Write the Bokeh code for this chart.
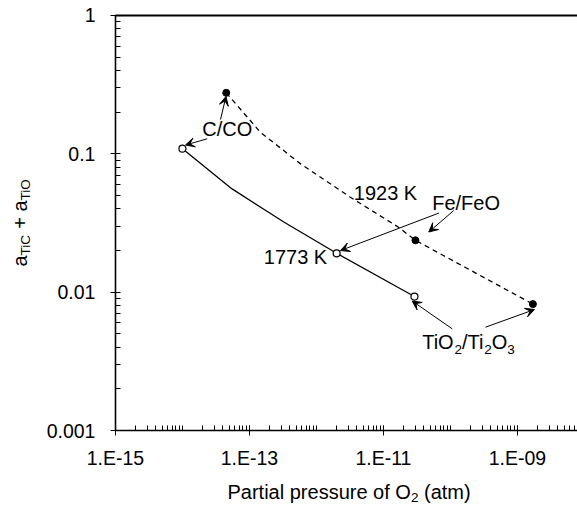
from bokeh.plotting import figure
from bokeh.models import (Range1d, FixedTicker, CustomJSTickFormatter, Label, Arrow,
                          VeeHead, LogAxis)
from bokeh.embed import file_html
from bokeh.resources import INLINE

# ---------------- data ----------------
# 1773 K curve (solid, open circles at the buffers)
x_1773_curve = [1.0e-14, 5.5e-14, 3.3e-13, 2.0e-12, 2.9e-11]
y_1773_curve = [0.109, 0.0558, 0.032, 0.0191, 0.0093]
x_1773_buffer = [1.0e-14, 2.0e-12, 2.9e-11]
y_1773_buffer = [0.109, 0.0191, 0.0093]

# 1923 K curve (dashed, filled circles at the buffers)
x_1923_curve = [4.5e-14, 1.46e-13, 5.8e-13, 3.2e-12, 1.67e-11, 3.0e-11, 1.7e-9]
y_1923_curve = [0.276, 0.143, 0.0846, 0.0486, 0.0295, 0.0237, 0.0082]
x_1923_buffer = [4.5e-14, 3.0e-11, 1.7e-9]
y_1923_buffer = [0.276, 0.0237, 0.0082]

x_ticks = [1e-15, 1e-13, 1e-11, 1e-9]
x_tick_labels = ["1.E-15", "1.E-13", "1.E-11", "1.E-09"]
y_ticks = [0.001, 0.01, 0.1, 1]
y_tick_labels = ["0.001", "0.01", "0.1", "1"]
x_minor = [k * 10.0 ** n for n in range(-15, -8) for k in range(1, 10)]
y_minor = [k * 10.0 ** n for n in range(-3, 0) for k in range(2, 10)]

X_AXIS_MIN, X_AXIS_MAX = 1e-15, 10 ** -8.104
Y_AXIS_MIN, Y_AXIS_MAX = 0.001, 1.0

FONT = "Liberation Sans"
MAIN = 20.0
SUB = 13.5
W, H = 577, 505

# ---------------- figure ----------------
# The frame fills the whole canvas; the axes are drawn at fixed data locations
p = figure(width=W, height=H, x_axis_type="log", y_axis_type="log",
           x_axis_location=None, y_axis_location=None,
           x_range=Range1d(10 ** -16.716, 10 ** -8.104),
           y_range=Range1d(10 ** -3.542, 10 ** 0.1084),
           output_backend="svg", toolbar_location=None, min_border=0)
p.outline_line_color = None
p.grid.visible = False
p.background_fill_color = "white"
p.border_fill_color = "white"

def fmt(vals, labels):
    return CustomJSTickFormatter(args=dict(vals=vals, labels=labels), code="""
        let best = ''; let bd = 1e9;
        for (let i = 0; i < vals.length; i++) {
            const d = Math.abs(Math.log10(vals[i]) - Math.log10(tick));
            if (d < bd) { bd = d; best = labels[i]; }
        }
        return bd < 1e-6 ? best : '';
    """)

def style(ax):
    ax.axis_line_width = 1.6
    ax.axis_line_color = "black"
    ax.major_tick_line_color = "black"
    ax.minor_tick_line_color = "black"
    ax.major_tick_line_width = 1
    ax.minor_tick_line_width = 1
    ax.major_tick_out = 5
    ax.major_tick_in = 5
    ax.minor_tick_out = 0
    ax.minor_tick_in = 5
    ax.major_label_text_font = FONT
    ax.major_label_text_font_size = "19.5px"
    ax.major_label_text_color = "black"

xa = LogAxis(fixed_location=Y_AXIS_MIN, bounds=(X_AXIS_MIN, X_AXIS_MAX),
             ticker=FixedTicker(ticks=x_ticks, minor_ticks=x_minor),
             formatter=fmt(x_ticks, x_tick_labels))
style(xa)
xa.major_label_standoff = 11
p.add_layout(xa, "below")

ya = LogAxis(fixed_location=X_AXIS_MIN, bounds=(Y_AXIS_MIN, Y_AXIS_MAX),
             ticker=FixedTicker(ticks=y_ticks, minor_ticks=y_minor),
             formatter=fmt(y_ticks, y_tick_labels))
style(ya)
ya.major_label_standoff = 15
p.add_layout(ya, "left")

top = LogAxis(fixed_location=Y_AXIS_MAX, bounds=(X_AXIS_MIN, X_AXIS_MAX),
              ticker=FixedTicker(ticks=[], minor_ticks=[]),
              axis_line_width=2, axis_line_color="black",
              major_tick_line_color=None, minor_tick_line_color=None,
              major_label_text_font_size="0px")
p.add_layout(top, "above")

# ---------------- curves ----------------
p.line(x_1773_curve, y_1773_curve, line_color="black", line_width=1.3)
p.line(x_1923_curve, y_1923_curve, line_color="black", line_width=1.3, line_dash="5 4")
p.scatter(x_1773_buffer, y_1773_buffer, marker="circle", size=7,
          fill_color="white", line_color="black", line_width=1.2)
p.scatter(x_1923_buffer, y_1923_buffer, marker="circle", size=7,
          fill_color="black", line_color="black")

# ---------------- text helpers (positions in page pixels) ----------------
def sx(ix):
    return ix

def sy(iy):
    return H - iy

ARIAL = {" ": 278, "(": 333, ")": 333, "+": 584, "/": 278, ".": 278, "-": 333,
         "C": 722, "E": 667, "F": 611, "K": 667, "O": 778, "P": 667, "T": 611,
         "a": 556, "c": 500, "e": 556, "f": 278, "i": 222, "l": 222, "m": 833,
         "o": 556, "p": 556, "r": 333, "s": 500, "t": 278, "u": 556}

def tw(s, size):
    return sum(ARIAL.get(c, 556) for c in s) * size / 1000.0

MID = 0.3465  # baseline -> middle of the text box, in em

def rich(segments, ix, iy, vertical=False, sub_shift=5):
    """ix, iy: page position of the baseline start of the first segment."""
    pos = 0.0
    for txt, is_sub in segments:
        size = SUB if is_sub else MAIN
        shift = sub_shift if is_sub else 0
        lead = len(txt) - len(txt.lstrip(" "))
        pos += tw(" " * lead, size)
        txt = txt.lstrip(" ")
        if vertical:
            x = sx(ix + shift - MID * size)
            y = sy(iy - pos)
            ang = 1.5707963267948966
        else:
            x = sx(ix + pos)
            y = sy(iy + shift - MID * size)
            ang = 0
        p.add_layout(Label(x=x, y=y, x_units="screen", y_units="screen", text=txt,
                           angle=ang, text_font=FONT, text_font_size=f"{size}px",
                           text_color="black", text_align="left",
                           text_baseline="middle"))
        pos += tw(txt, size)

rich([("C/CO", False)], 201.7, 135.7)
rich([("1773 K", False)], 263.3, 263.3)
rich([("1923 K", False)], 353.3, 199.3)
rich([("Fe/FeO", False)], 431.7, 209.3)
rich([("TiO", False), ("2", True), ("/Ti", False), ("2", True), ("O", False), ("3", True)],
     421.7, 348.3)
rich([("Partial pressure of O", False), ("2", True), (" (atm)", False)], 227, 498, sub_shift=4)
rich([("a", False), ("TiC", True), (" + a", False), ("TiO", True)], 26.5, 266, vertical=True,
     sub_shift=3)

# arrows (page pixels: start -> tip)
arrows = [(206.7, 138.3, 185.0, 144.5),
          (220.0, 119.0, 225.5, 96.0),
          (438.5, 212.5, 340.0, 250.0),
          (453.3, 210.0, 428.3, 231.5),
          (451.7, 328.3, 411.7, 300.5),
          (485.0, 326.7, 534.0, 309.0)]
for x0, y0, x1, y1 in arrows:
    p.add_layout(Arrow(x_start=sx(x0), y_start=sy(y0), x_end=sx(x1), y_end=sy(y1),
                       start_units="screen", end_units="screen",
                       line_color="black", line_width=1,
                       end=VeeHead(size=9, fill_color="black", line_color="black",
                                   line_width=1)))

open("out.html", "w").write(file_html(p, INLINE))
